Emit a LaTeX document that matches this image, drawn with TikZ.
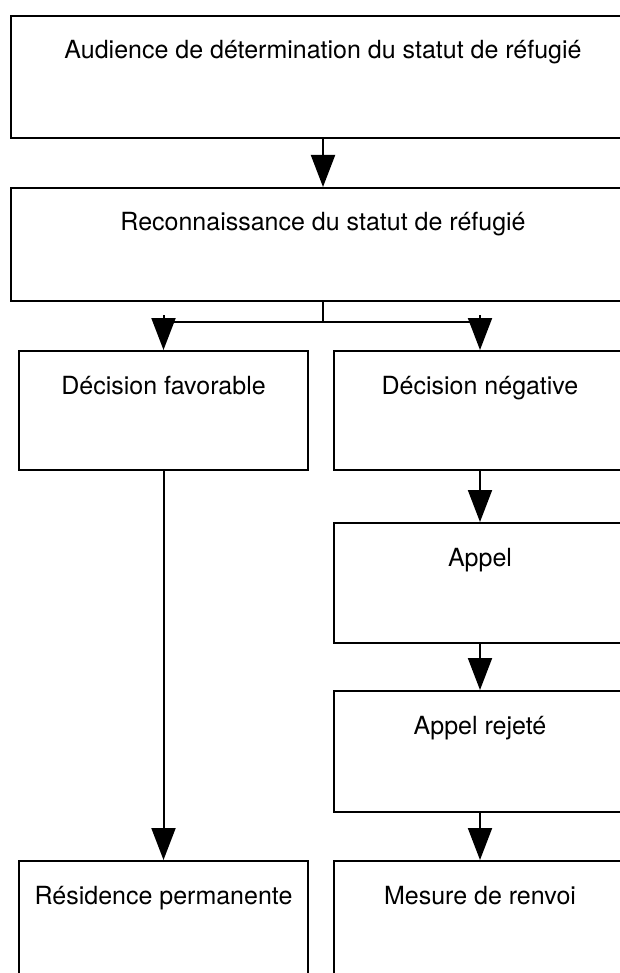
\documentclass[tikz,border=0pt]{standalone}
\usepackage{fontspec}
\setmainfont{TeX Gyre Heros}
\usetikzlibrary{arrows.meta}
\begin{document}
\begin{tikzpicture}[x=1pt,y=-1pt,
  box/.style={draw=black, line width=2pt, rectangle, anchor=north west,
    inner sep=0pt, text height=43pt, font=\fontsize{25}{30}\selectfont},
  flow/.style={line width=2pt, -{Triangle[length=32pt,width=24pt]}},
  link/.style={line width=2pt}]
% page area
\fill[white] (0,0) rectangle (620,973);
\useasboundingbox (0,0) rectangle (620,973);
\clip (0,0) rectangle (620,973);

% boxes (positioned by their top-left corner)
\node[box, minimum width=624pt, text depth=79pt] (hearing) at (10,15)
  {Audience de détermination du statut de réfugié};
\node[box, minimum width=624pt, text depth=70pt] (recog) at (10,187)
  {Reconnaissance du statut de réfugié};
\node[box, minimum width=289pt, text depth=76pt] (favour) at (18,350)
  {Décision favorable};
\node[box, minimum width=292pt, text depth=76pt] (refusal) at (333,350)
  {Décision négative};
\node[box, minimum width=292pt, text depth=77pt] (appeal) at (333,522)
  {Appel};
\node[box, minimum width=292pt, text depth=78pt] (rejected) at (333,690)
  {Appel rejeté};
\node[box, minimum width=289pt, text depth=117pt] (resident) at (18,860)
  {Résidence permanente};
\node[box, minimum width=292pt, text depth=117pt] (removal) at (333,860)
  {Mesure de renvoi};

% split below the recognition box
\coordinate (splitL) at (favour.north |- 0,322);
\coordinate (splitR) at (refusal.north |- 0,322);
\coordinate (split) at (recog.south |- splitL);
\coordinate (headL) at (favour.north |- 0,315);
\coordinate (headR) at (refusal.north |- 0,315);

% connectors
\draw[flow] (hearing.south) -- (recog.north);
\draw[link] (recog.south) -- (split);
\draw[link] (splitL) -- (splitR);
\draw[flow] (headL) -- (favour.north);
\draw[flow] (headR) -- (refusal.north);
\draw[flow] (favour.south) -- (resident.north);
\draw[flow] (refusal.south) -- (appeal.north);
\draw[flow] (appeal.south) -- (rejected.north);
\draw[flow] (rejected.south) -- (removal.north);
\end{tikzpicture}
\end{document}
